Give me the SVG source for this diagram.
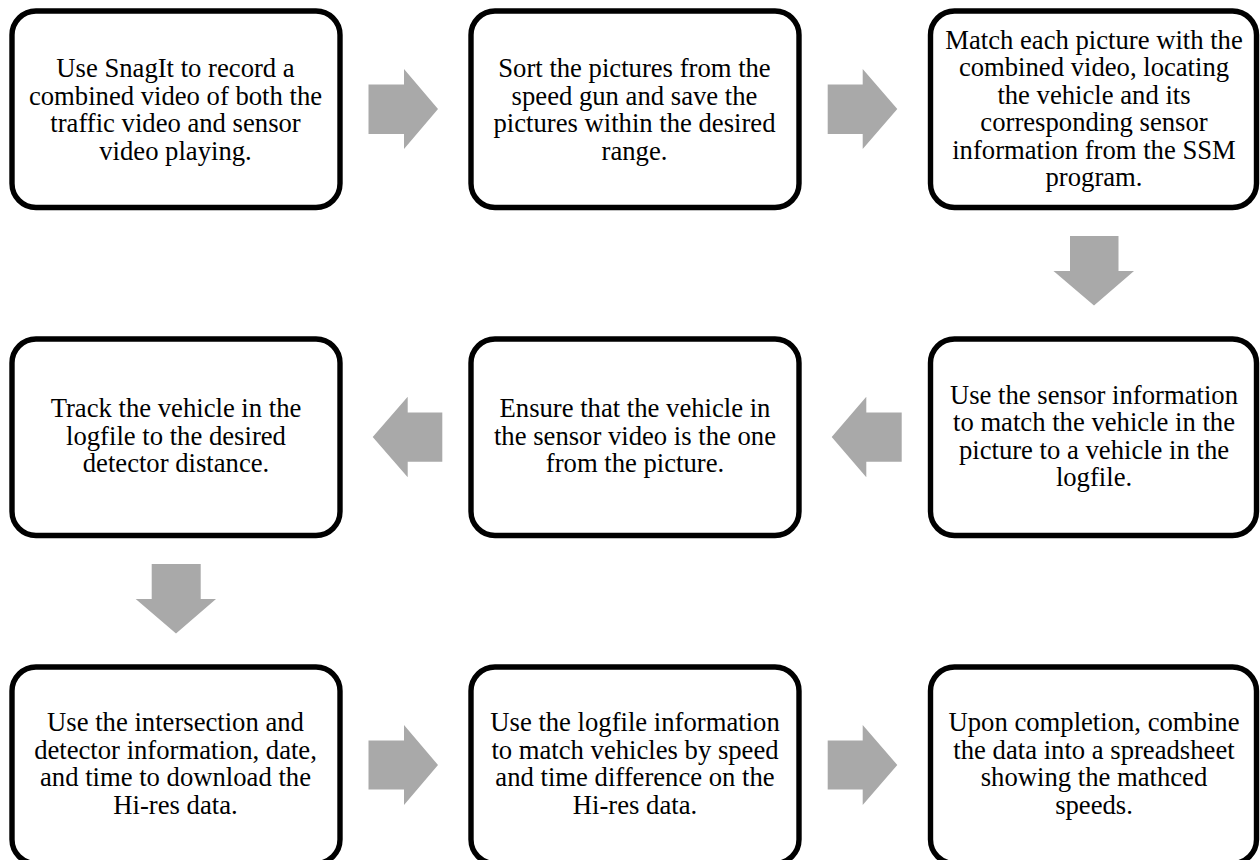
<svg xmlns="http://www.w3.org/2000/svg" width="1260" height="860" viewBox="0 0 1260 860">
<style>
.box{fill:#fff;stroke:#000;stroke-width:5.4}
.arr{fill:#a9a9a9}
text{font-family:"Liberation Serif","Times New Roman",serif;font-size:26.67px;fill:#000;text-anchor:middle}
</style>
<rect width="1260" height="860" fill="#fff"/>
<g id="connectors">
<polygon class="arr" points="368.500,84.500 404,84.500 404,69 438,109 404,149 404,134 368.500,134"/>
<polygon class="arr" points="827.700,84.500 862.700,84.500 862.700,69 897.300,109 862.700,149 862.700,134 827.700,134"/>
<polygon class="arr" points="1070,236 1118.500,236 1118.500,271 1134,271 1094,305.500 1053.500,271 1070,271"/>
<polygon class="arr" points="901.700,412.500 866.300,412.500 866.300,396.700 831.700,437 866.300,477.300 866.300,461.700 901.700,461.700"/>
<polygon class="arr" points="442.300,412.500 407.700,412.500 407.700,396.700 372.700,437 407.700,477.300 407.700,461.700 442.300,461.700"/>
<polygon class="arr" points="151.700,564 200.700,564 200.700,599 216,599 176,633.500 135.700,599 151.700,599"/>
<polygon class="arr" points="368.500,740.500 404,740.500 404,725 438,765 404,805 404,789.500 368.500,789.500"/>
<polygon class="arr" points="827.700,740.500 862.700,740.500 862.700,725 897.300,765 862.700,805 862.700,789.500 827.700,789.500"/>
</g>
<g id="n1"><rect class="box" x="12" y="11" width="328" height="196.500" rx="24"/>
<text x="175.500" y="77">Use SnagIt to record a</text><text x="175.500" y="104.500">combined video of both the</text><text x="175.500" y="132">traffic video and sensor</text><text x="175.500" y="159.500">video playing.</text></g>
<g id="n2"><rect class="box" x="471" y="11" width="328" height="196.500" rx="24"/>
<text x="634.500" y="77">Sort the pictures from the</text><text x="634.500" y="104.500">speed gun and save the</text><text x="634.500" y="132">pictures within the desired</text><text x="634.500" y="159.500">range.</text></g>
<g id="n3"><rect class="box" x="930.500" y="11" width="326" height="196.500" rx="24"/>
<text x="1094" y="48.500">Match each picture with the</text><text x="1094" y="76">combined video, locating</text><text x="1094" y="103.500">the vehicle and its</text><text x="1094" y="131">corresponding sensor</text><text x="1094" y="158.500">information from the SSM</text><text x="1094" y="186">program.</text></g>
<g id="n4"><rect class="box" x="930.500" y="339" width="326" height="196.500" rx="24"/>
<text x="1094" y="403.500">Use the sensor information</text><text x="1094" y="431">to match the vehicle in the</text><text x="1094" y="458.500">picture to a vehicle in the</text><text x="1094" y="486">logfile.</text></g>
<g id="n5"><rect class="box" x="471" y="339" width="328" height="196.500" rx="24"/>
<text x="635" y="417">Ensure that the vehicle in</text><text x="635" y="444.500">the sensor video is the one</text><text x="635" y="472">from the picture.</text></g>
<g id="n6"><rect class="box" x="12" y="339" width="328" height="196.500" rx="24"/>
<text x="176" y="417">Track the vehicle in the</text><text x="176" y="444.500">logfile to the desired</text><text x="176" y="472">detector distance.</text></g>
<g id="n7"><rect class="box" x="12" y="667" width="328" height="196.500" rx="24"/>
<text x="175.500" y="731">Use the intersection and</text><text x="175.500" y="758.500">detector information, date,</text><text x="175.500" y="786">and time to download the</text><text x="175.500" y="813.500">Hi-res data.</text></g>
<g id="n8"><rect class="box" x="471" y="667" width="328" height="196.500" rx="24"/>
<text x="635" y="731">Use the logfile information</text><text x="635" y="758.500">to match vehicles by speed</text><text x="635" y="786">and time difference on the</text><text x="635" y="813.500">Hi-res data.</text></g>
<g id="n9"><rect class="box" x="930.500" y="667" width="326" height="196.500" rx="24"/>
<text x="1094" y="731">Upon completion, combine</text><text x="1094" y="758.500">the data into a spreadsheet</text><text x="1094" y="786">showing the mathced</text><text x="1094" y="813.500">speeds.</text></g>
</svg>
